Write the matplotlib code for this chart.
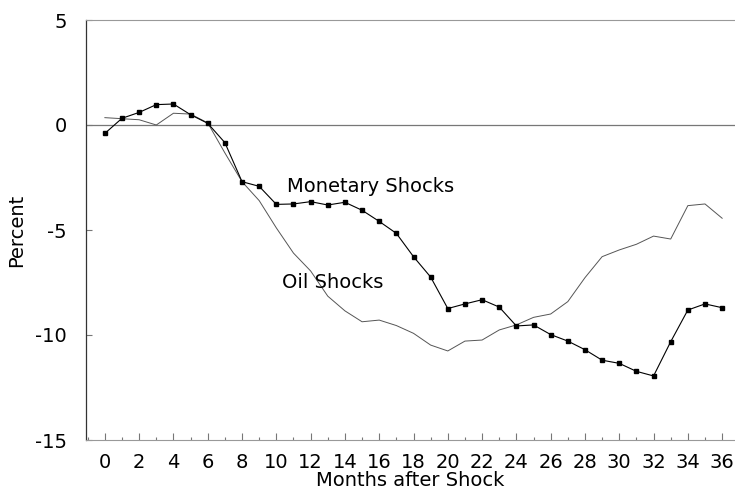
import matplotlib
matplotlib.use("Agg")
import matplotlib.pyplot as plt
from matplotlib.ticker import MultipleLocator

months = list(range(37))
monetary = [-0.40, 0.32, 0.60, 0.97, 1.00, 0.49, 0.08, -0.84, -2.70, -2.92,
            -3.78, -3.76, -3.65, -3.81, -3.68, -4.06, -4.59, -5.16, -6.27, -7.24,
            -8.74, -8.52, -8.32, -8.67, -9.57, -9.52, -9.98, -10.29, -10.70, -11.20,
            -11.35, -11.73, -11.95, -10.32, -8.81, -8.52, -8.70]
oil = [0.35, 0.30, 0.25, 0.00, 0.56, 0.52, 0.10, -1.33, -2.70, -3.60,
       -4.90, -6.10, -6.95, -8.15, -8.85, -9.37, -9.29, -9.55, -9.92, -10.48,
       -10.76, -10.29, -10.24, -9.76, -9.52, -9.16, -9.00, -8.41, -7.27, -6.27,
       -5.95, -5.68, -5.29, -5.43, -3.84, -3.76, -4.44]
xticks = list(range(0, 37, 2))
yticks = [5, 0, -5, -10, -15]

plt.rcParams['font.family'] = ['DejaVu Sans']
W, H = 735, 493
fig = plt.figure(figsize=(W/100, H/100), dpi=100)
ax = fig.add_axes([86/W, 53/H, 1 - 86/W, (440-20)/H])

ax.axhline(0, color='#777777', lw=0.9, zorder=1)
ax.plot(months, oil, color='#555555', lw=0.7, zorder=2)
ax.plot(months, monetary, color='black', lw=0.8, marker='s', ms=3.2,
        markerfacecolor='black', markeredgecolor='black', zorder=3)

ax.set_xlim(-1.1, 36.75)
ax.set_ylim(-15, 5)
ax.set_xticks(xticks)
ax.set_xticklabels([str(t) for t in xticks])
ax.xaxis.set_minor_locator(MultipleLocator(1))
ax.set_yticks(yticks)
ax.set_yticklabels([str(t) for t in yticks])

ax.tick_params(axis='x', which='major', direction='in', length=5, width=0.8,
               color='#777777', labelsize=14, pad=9)
ax.tick_params(axis='x', which='minor', direction='in', length=2.5, width=0.8,
               color='#777777')
ax.tick_params(axis='y', which='major', direction='in', length=4, width=0.8,
               color='#777777', labelsize=14, pad=14)

ax.spines['right'].set_visible(False)
ax.spines['left'].set_color('#333333')
ax.spines['left'].set_linewidth(0.9)
ax.spines['top'].set_color('#999999')
ax.spines['bottom'].set_color('#999999')

ax.set_xlabel('Months after Shock', fontsize=14, labelpad=0)
ax.set_ylabel('Percent', fontsize=14, labelpad=6)

fig.text(287/W, 1 - 187/H, 'Monetary Shocks', fontsize=14, va='center', ha='left')
fig.text(282/W, 1 - 283/H, 'Oil Shocks', fontsize=14, va='center', ha='left')

fig.savefig('out.png', dpi=100)
